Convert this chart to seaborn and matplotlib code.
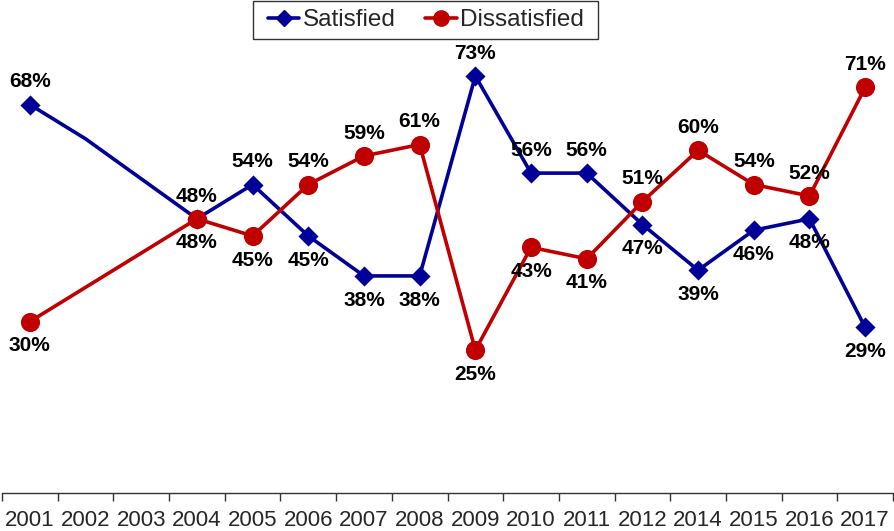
import numpy as np
import pandas as pd
import seaborn as sns
import matplotlib.pyplot as plt
from matplotlib.lines import Line2D
from matplotlib.patches import Rectangle

years = ['2001', '2002', '2003', '2004', '2005', '2006', '2007', '2008',
         '2009', '2010', '2011', '2012', '2014', '2015', '2016', '2017']
satisfied = [68, 62, np.nan, 48, 54, 45, 38, 38, 73, 56, 56, 47, 39, 46, 48, 29]
dissatisfied = [30, np.nan, np.nan, 48, 45, 54, 59, 61, 25, 43, 41, 51, 60, 54, 52, 71]
# 2002 satisfied value is only a bend in the line, no marker or label
sat_marked = [True, False, False, True, True, True, True, True,
              True, True, True, True, True, True, True, True]
sat_label_pos = ['above', None, None, 'above', 'above', 'below', 'below', 'below',
                 'above', 'above', 'above', 'below', 'below', 'below', 'below', 'below']
dis_label_pos = ['below', None, None, 'below', 'below', 'above', 'above', 'above',
                 'below', 'below', 'below', 'above', 'above', 'above', 'above', 'above']

sns.set_style('white')
plt.rcParams['font.family'] = ['Liberation Sans', 'DejaVu Sans']

blue = '#000099'
red = '#C00000'

df = pd.DataFrame({'pos': np.arange(len(years)), 'year': years,
                   'Satisfied': satisfied, 'Dissatisfied': dissatisfied,
                   'sat_marked': sat_marked})

fig = plt.figure(figsize=(8.94, 5.31), dpi=100)
ax = fig.add_axes([2 / 894, 1 - 493 / 531, 891 / 894, 457 / 531])

sat = df.dropna(subset=['Satisfied'])
dis = df.dropna(subset=['Dissatisfied'])

sns.lineplot(data=sat, x='pos', y='Satisfied', color=blue, lw=2.6, ax=ax, sort=False)
sns.lineplot(data=dis, x='pos', y='Dissatisfied', color=red, lw=2.6, ax=ax, sort=False)
sns.scatterplot(data=sat[sat['sat_marked']], x='pos', y='Satisfied', color=blue,
                marker='D', s=105, linewidth=0, ax=ax, zorder=3)
sns.scatterplot(data=dis, x='pos', y='Dissatisfied', color=red,
                marker='o', s=190, linewidth=0, ax=ax, zorder=3)

for i in range(len(years)):
    for val, where in ((satisfied[i], sat_label_pos[i]), (dissatisfied[i], dis_label_pos[i])):
        if where is None or np.isnan(val):
            continue
        off = 9.5 if where == 'above' else -10.5
        ax.annotate(f'{int(val)}%', (i, val), xytext=(0, off), textcoords='offset points',
                    ha='center', va='bottom' if where == 'above' else 'top',
                    fontsize=15, fontweight='bold', color='black')

ax.set_xlim(-0.5, len(years) - 0.5)
ax.set_ylim(0, 80)
ax.set_xticks(range(len(years)))
ax.set_xticklabels(years, fontsize=16)
ax.set_xticks(np.arange(-0.5, len(years)), minor=True)
ax.tick_params(axis='x', which='major', bottom=False, length=0, pad=12)
ax.tick_params(axis='x', which='minor', bottom=True, length=6, width=1,
               color='#333333', direction='out')
ax.set_yticks([])
ax.set_xlabel('')
ax.set_ylabel('')
for side in ['top', 'left', 'right']:
    ax.spines[side].set_visible(False)
ax.spines['bottom'].set_color('#333333')
ax.spines['bottom'].set_linewidth(1)

# legend box drawn as its own frame so its padding matches the original
fig.patches.append(Rectangle((253 / 894, 1 - 39 / 531), 345 / 894, 38.5 / 531,
                             transform=fig.transFigure, fill=False,
                             edgecolor='#333333', linewidth=1))
handles = [Line2D([], [], color=blue, lw=2.6, marker='D', markersize=8),
           Line2D([], [], color=red, lw=2.6, marker='o', markersize=11)]
leg = fig.legend(handles, ['Satisfied', 'Dissatisfied'], loc='center',
                 bbox_to_anchor=(426 / 894, 1 - 20 / 531), ncol=2, fontsize=17.5,
                 frameon=False, handlelength=1.3, handletextpad=0.15,
                 columnspacing=1.2, borderpad=0.2)

fig.savefig('out.png', dpi=100)
